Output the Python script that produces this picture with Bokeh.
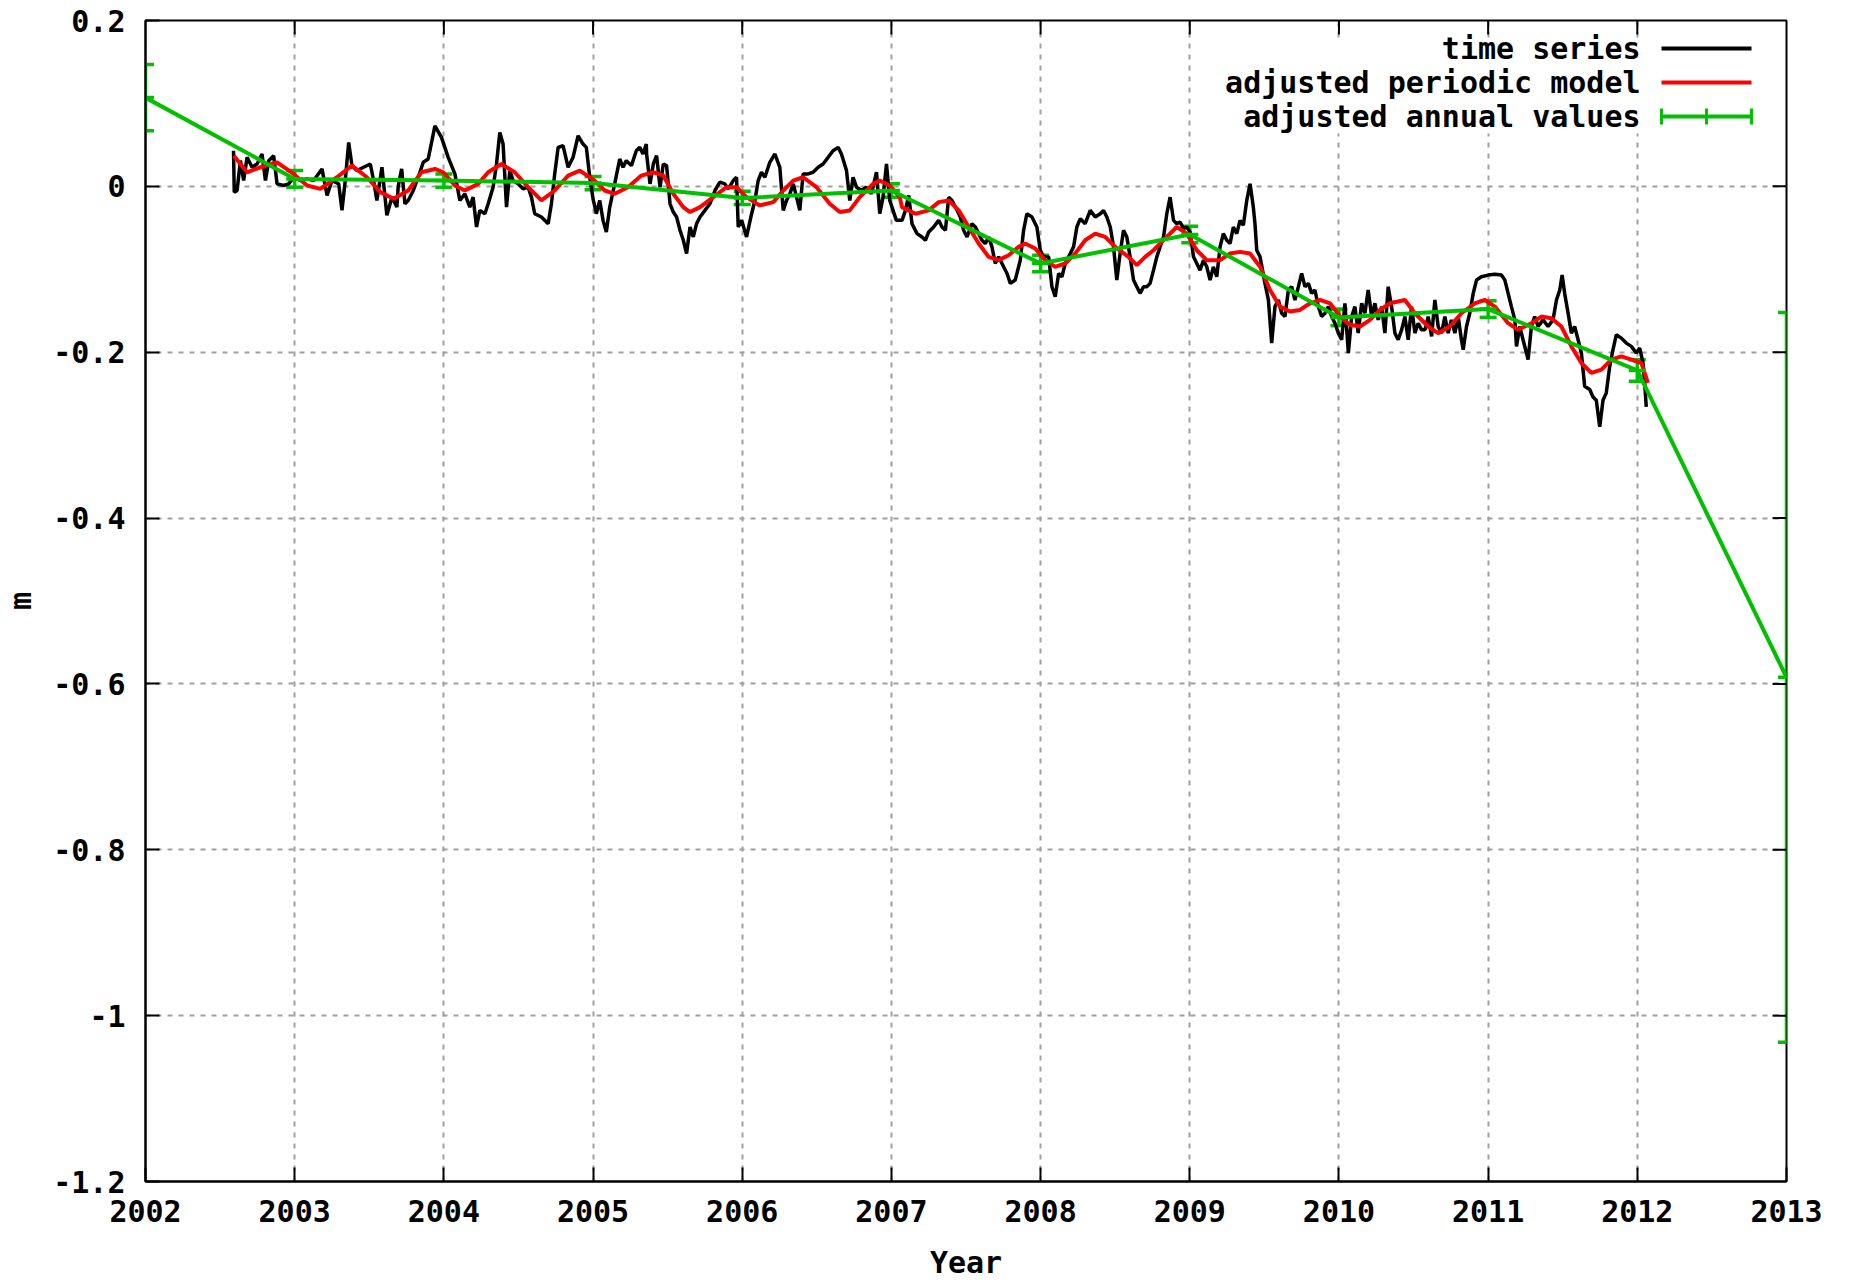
import math
from bokeh.plotting import figure
from bokeh.models import (Range1d, FixedTicker, Whisker, TeeHead,
                          ColumnDataSource, Label, BoxAnnotation)
from bokeh.embed import file_html
from bokeh.resources import INLINE

# ---------------- data ----------------
ts_year = [
    2002.590, 2002.595, 2002.614, 2002.636, 2002.658, 2002.681, 2002.714, 2002.748, 2002.781, 2002.804,
    2002.826, 2002.859, 2002.882, 2002.926, 2002.960, 2002.993, 2003.038, 2003.083, 2003.127, 2003.183,
    2003.217, 2003.250, 2003.295, 2003.317, 2003.339, 2003.362, 2003.384, 2003.417, 2003.462, 2003.507,
    2003.529, 2003.551, 2003.585, 2003.618, 2003.652, 2003.685,
    2003.694, 2003.717, 2003.739, 2003.761, 2003.795, 2003.828, 2003.862, 2003.895, 2003.940, 2003.984,
    2004.029, 2004.074, 2004.107, 2004.141, 2004.174, 2004.196, 2004.219, 2004.241, 2004.275, 2004.297,
    2004.330, 2004.353, 2004.375, 2004.397, 2004.420, 2004.442, 2004.464, 2004.498, 2004.531, 2004.565,
    2004.587, 2004.609, 2004.654, 2004.699, 2004.721, 2004.743, 2004.766, 2004.799, 2004.833, 2004.866,
    2004.900, 2004.933, 2004.955, 2004.978, 2005.000, 2005.022, 2005.045, 2005.067, 2005.089, 2005.112,
    2005.145, 2005.179, 2005.201, 2005.223, 2005.257, 2005.290, 2005.313, 2005.335, 2005.357,
    2005.359, 2005.382, 2005.404, 2005.426, 2005.449, 2005.471, 2005.493, 2005.516, 2005.538, 2005.560,
    2005.583, 2005.605, 2005.627, 2005.650, 2005.672, 2005.694, 2005.717, 2005.750, 2005.783, 2005.817,
    2005.850, 2005.884, 2005.906, 2005.940, 2005.962, 2005.973, 2005.996, 2006.029, 2006.063, 2006.085,
    2006.107, 2006.129, 2006.152, 2006.185, 2006.219, 2006.252, 2006.275, 2006.297, 2006.319, 2006.342,
    2006.364, 2006.386, 2006.408, 2006.442, 2006.475, 2006.509, 2006.542, 2006.576, 2006.609, 2006.643,
    2006.665, 2006.699, 2006.721, 2006.743, 2006.766, 2006.799, 2006.833, 2006.866, 2006.900, 2006.922,
    2006.944, 2006.967, 2006.989, 2007.011, 2007.033,
    2007.071, 2007.094, 2007.116, 2007.138, 2007.172, 2007.205, 2007.228, 2007.250, 2007.283, 2007.317,
    2007.339, 2007.362, 2007.384, 2007.406, 2007.429, 2007.462, 2007.484, 2007.507, 2007.540, 2007.563,
    2007.585, 2007.607, 2007.629, 2007.652, 2007.674, 2007.696, 2007.719, 2007.752, 2007.775, 2007.797,
    2007.830, 2007.864, 2007.886, 2007.908, 2007.942, 2007.975, 2007.998, 2008.020, 2008.054, 2008.076,
    2008.098, 2008.121, 2008.143, 2008.165, 2008.199, 2008.221, 2008.243, 2008.266, 2008.299, 2008.333,
    2008.366, 2008.400, 2008.422, 2008.444, 2008.467, 2008.489, 2008.511, 2008.533, 2008.556, 2008.578,
    2008.600, 2008.623, 2008.645, 2008.667, 2008.690, 2008.712,
    2008.734, 2008.757, 2008.779, 2008.801, 2008.824, 2008.846, 2008.868, 2008.891, 2008.913, 2008.935,
    2008.958, 2008.980, 2009.002, 2009.025, 2009.047, 2009.069, 2009.092, 2009.114, 2009.136, 2009.158,
    2009.181, 2009.203, 2009.225, 2009.248, 2009.270, 2009.292, 2009.315, 2009.337, 2009.359, 2009.382,
    2009.404, 2009.426, 2009.437, 2009.449, 2009.471, 2009.504, 2009.527, 2009.549, 2009.571, 2009.594,
    2009.616, 2009.638, 2009.661, 2009.683, 2009.705, 2009.728, 2009.750, 2009.772, 2009.795, 2009.817,
    2009.839, 2009.862, 2009.884, 2009.906, 2009.929, 2009.951, 2009.973, 2009.996, 2010.018, 2010.040,
    2010.063, 2010.085, 2010.107, 2010.129, 2010.152, 2010.174, 2010.196, 2010.219, 2010.241, 2010.263,
    2010.286, 2010.308, 2010.330, 2010.353, 2010.375, 2010.397,
    2010.420, 2010.442, 2010.464, 2010.487, 2010.509, 2010.531, 2010.554, 2010.576, 2010.598, 2010.621,
    2010.643, 2010.665, 2010.688, 2010.710, 2010.732, 2010.754, 2010.777, 2010.799, 2010.821, 2010.833,
    2010.855, 2010.877, 2010.900, 2010.922, 2010.955, 2011.000, 2011.045, 2011.089, 2011.112, 2011.134,
    2011.156, 2011.179, 2011.190, 2011.212, 2011.234, 2011.268, 2011.290, 2011.312, 2011.335, 2011.368,
    2011.402, 2011.435, 2011.458, 2011.480, 2011.496, 2011.513, 2011.536, 2011.558, 2011.580, 2011.603,
    2011.625, 2011.647, 2011.681, 2011.703, 2011.725, 2011.748, 2011.770, 2011.792, 2011.815, 2011.837,
    2011.859, 2011.893, 2011.926, 2011.960, 2011.993, 2012.016, 2012.038, 2012.049, 2012.060,
]
ts_value = [
    0.043, -0.007, -0.005, 0.031, 0.007, 0.035, 0.023, 0.027, 0.039, 0.007,
    0.031, 0.037, 0.003, 0.001, 0.003, 0.011, 0.007, 0.009, 0.007, 0.021,
    -0.011, 0.007, 0.003, -0.029, 0.007, 0.053, 0.025, 0.019, 0.023, 0.027,
    0.007, -0.017, 0.023, -0.035, -0.013, -0.025,
    0.000, 0.021, -0.021, -0.017, -0.005, 0.011, 0.029, 0.033, 0.073, 0.059,
    0.035, 0.015, -0.017, -0.009, -0.025, -0.013, -0.049, -0.029, -0.033, -0.021,
    -0.001, 0.027, 0.065, 0.051, -0.025, 0.019, 0.007, 0.003, -0.003, -0.001,
    -0.013, -0.033, -0.037, -0.045, -0.021, 0.015, 0.047, 0.049, 0.023, 0.035,
    0.061, 0.051, 0.047, 0.011, -0.015, -0.033, -0.017, -0.041, -0.055, -0.025,
    0.003, 0.033, 0.023, 0.031, 0.025, 0.043, 0.047, 0.039, 0.051,
    0.039, 0.003, 0.027, 0.037, -0.001, 0.027, 0.025, -0.021, -0.031, -0.037,
    -0.053, -0.065, -0.081, -0.049, -0.061, -0.045, -0.037, -0.029, -0.021, -0.005,
    0.005, 0.003, -0.003, 0.007, 0.011, -0.049, -0.041, -0.061, -0.033, -0.017,
    0.007, 0.017, 0.011, 0.029, 0.039, 0.023, -0.029, -0.017, -0.009, 0.003,
    -0.013, -0.029, 0.015, 0.015, 0.017, 0.023, 0.027, 0.035, 0.043, 0.047,
    0.039, 0.019, -0.017, 0.011, -0.001, -0.005, -0.001, -0.009, 0.017, -0.033,
    -0.013, 0.027, -0.017, -0.029, -0.041,
    -0.041, -0.029, -0.011, -0.045, -0.057, -0.061, -0.065, -0.055, -0.049, -0.041,
    -0.049, -0.053, -0.013, -0.017, -0.025, -0.037, -0.053, -0.061, -0.045, -0.049,
    -0.057, -0.065, -0.069, -0.061, -0.073, -0.093, -0.085, -0.097, -0.105, -0.117,
    -0.113, -0.089, -0.053, -0.033, -0.037, -0.049, -0.077, -0.085, -0.085, -0.121,
    -0.133, -0.105, -0.109, -0.093, -0.081, -0.073, -0.049, -0.039, -0.045, -0.029,
    -0.037, -0.033, -0.029, -0.037, -0.049, -0.073, -0.113, -0.081, -0.053, -0.061,
    -0.085, -0.113, -0.121, -0.129, -0.121, -0.121,
    -0.117, -0.101, -0.085, -0.073, -0.061, -0.033, -0.013, -0.041, -0.045, -0.043,
    -0.051, -0.049, -0.055, -0.085, -0.093, -0.101, -0.089, -0.097, -0.113, -0.097,
    -0.109, -0.073, -0.057, -0.065, -0.069, -0.049, -0.057, -0.041, -0.047, -0.017,
    0.003, -0.025, -0.045, -0.077, -0.085, -0.117, -0.137, -0.189, -0.145, -0.137,
    -0.153, -0.157, -0.125, -0.121, -0.137, -0.121, -0.105, -0.121, -0.117, -0.129,
    -0.125, -0.145, -0.157, -0.153, -0.145, -0.157, -0.165, -0.177, -0.185, -0.141,
    -0.201, -0.157, -0.145, -0.177, -0.141, -0.153, -0.125, -0.157, -0.141, -0.161,
    -0.145, -0.177, -0.121, -0.145, -0.177, -0.185,
    -0.173, -0.157, -0.185, -0.145, -0.177, -0.165, -0.173, -0.173, -0.157, -0.181,
    -0.137, -0.169, -0.177, -0.157, -0.177, -0.161, -0.177, -0.157, -0.185, -0.197,
    -0.169, -0.153, -0.129, -0.113, -0.109, -0.107, -0.106, -0.107, -0.113, -0.129,
    -0.145, -0.161, -0.193, -0.169, -0.185, -0.209, -0.169, -0.157, -0.169, -0.161,
    -0.169, -0.161, -0.137, -0.125, -0.107, -0.129, -0.153, -0.177, -0.169, -0.185,
    -0.201, -0.241, -0.245, -0.254, -0.258, -0.290, -0.258, -0.249, -0.217, -0.197,
    -0.179, -0.183, -0.189, -0.193, -0.201, -0.195, -0.213, -0.237, -0.266,
]

model_year = [
    2002.592, 2002.681, 2002.770, 2002.882, 2002.993, 2003.083, 2003.172, 2003.283, 2003.384, 2003.484,
    2003.574, 2003.663, 2003.761, 2003.850, 2003.940, 2003.996, 2004.074, 2004.141, 2004.230, 2004.297,
    2004.386, 2004.475, 2004.565, 2004.654, 2004.743, 2004.833, 2004.911, 2005.011, 2005.078, 2005.145,
    2005.234, 2005.324, 2005.404, 2005.471, 2005.538, 2005.605, 2005.650, 2005.717, 2005.806, 2005.895,
    2005.962, 2006.029, 2006.118, 2006.208, 2006.275, 2006.342, 2006.408, 2006.498, 2006.587, 2006.654,
    2006.721, 2006.788, 2006.877, 2006.922, 2006.989, 2007.056, 2007.071, 2007.161, 2007.250, 2007.317,
    2007.384, 2007.451, 2007.518, 2007.585, 2007.652, 2007.719, 2007.786, 2007.853, 2007.897, 2007.964,
    2008.031, 2008.098, 2008.165, 2008.232, 2008.299, 2008.366, 2008.433, 2008.500, 2008.589, 2008.645,
    2008.701, 2008.757, 2008.846, 2008.913, 2008.980, 2009.047, 2009.114, 2009.203, 2009.270, 2009.337,
    2009.404, 2009.471, 2009.538, 2009.605, 2009.672, 2009.739, 2009.806, 2009.873, 2009.940, 2010.007,
    2010.074, 2010.141, 2010.208, 2010.275, 2010.342, 2010.442, 2010.509, 2010.598, 2010.665, 2010.743,
    2010.821, 2010.911, 2010.978, 2011.045, 2011.134, 2011.201, 2011.290, 2011.357, 2011.424, 2011.491,
    2011.558, 2011.625, 2011.692, 2011.759, 2011.826, 2011.893, 2011.960, 2012.027, 2012.071,
]
model_value = [
    0.037, 0.017, 0.023, 0.029, 0.015, 0.001, -0.003, 0.011, 0.025, 0.011,
    -0.007, -0.015, -0.005, 0.017, 0.021, 0.017, 0.001, -0.005, 0.003, 0.017,
    0.027, 0.017, -0.001, -0.017, -0.005, 0.013, 0.019, 0.007, -0.005, -0.009,
    -0.001, 0.013, 0.017, 0.013, -0.009, -0.025, -0.031, -0.025, -0.013, -0.001,
    -0.001, -0.013, -0.023, -0.019, -0.005, 0.007, 0.011, -0.001, -0.021, -0.031,
    -0.029, -0.013, 0.003, 0.007, 0.001, -0.013, -0.025, -0.033, -0.029, -0.019,
    -0.017, -0.029, -0.049, -0.069, -0.085, -0.089, -0.083, -0.073, -0.069, -0.075,
    -0.089, -0.097, -0.093, -0.081, -0.065, -0.057, -0.061, -0.073, -0.085, -0.095,
    -0.085, -0.077, -0.061, -0.049, -0.057, -0.077, -0.089, -0.089, -0.081, -0.079,
    -0.081, -0.097, -0.125, -0.145, -0.151, -0.149, -0.141, -0.137, -0.141, -0.157,
    -0.167, -0.169, -0.161, -0.149, -0.141, -0.137, -0.153, -0.169, -0.177, -0.169,
    -0.153, -0.141, -0.137, -0.145, -0.165, -0.173, -0.165, -0.157, -0.159, -0.169,
    -0.193, -0.213, -0.225, -0.221, -0.209, -0.205, -0.209, -0.213, -0.237,
]

annual_year = [2002, 2003, 2004, 2005, 2006, 2007, 2008, 2009, 2010, 2011, 2012, 2013]
annual_value = [0.107, 0.009, 0.007, 0.004, -0.014, -0.005, -0.093, -0.058, -0.158, -0.148, -0.222, -0.592]
annual_err = [0.040, 0.010, 0.008, 0.008, 0.008, 0.008, 0.010, 0.010, 0.010, 0.010, 0.013, 0.440]

x_ticks = [2002, 2003, 2004, 2005, 2006, 2007, 2008, 2009, 2010, 2011, 2012, 2013]
x_labels = ["2002", "2003", "2004", "2005", "2006", "2007", "2008", "2009", "2010", "2011", "2012", "2013"]
y_ticks = [-1.2, -1.0, -0.8, -0.6, -0.4, -0.2, 0.0, 0.2]
y_labels = ["-1.2", "-1", "-0.8", "-0.6", "-0.4", "-0.2", "0", "0.2"]

legend_labels = ["time series", "adjusted periodic model", "adjusted annual values"]

# ---------------- styling ----------------
FONT = "DejaVu Sans Mono"
FS = "30px"
GREEN = "#00c000"
RED = "#ff0000"
BLACK = "#000000"
GRID = "#a0a0a0"

p = figure(width=1850, height=1282,
           x_range=Range1d(x_ticks[0], x_ticks[-1]), y_range=Range1d(y_ticks[0], y_ticks[-1]),
           output_backend="svg", toolbar_location=None,
           min_border_left=145, min_border_right=64,
           min_border_top=20, min_border_bottom=99,
           background_fill_color="white", border_fill_color="white")

p.outline_line_color = BLACK
p.outline_line_width = 2
p.outline_line_alpha = 1

xax = p.xaxis[0]
yax = p.yaxis[0]
xax.ticker = FixedTicker(ticks=x_ticks)
xax.major_label_overrides = dict(zip(x_ticks, x_labels))
yax.ticker = FixedTicker(ticks=y_ticks)
yax.major_label_overrides = dict(zip(y_ticks, y_labels))

for ax in (xax, yax):
    ax.major_tick_in = 14
    ax.major_tick_out = 0
    ax.major_tick_line_width = 2
    ax.major_tick_line_color = BLACK
    ax.minor_tick_line_color = None
    ax.axis_line_color = BLACK
    ax.axis_line_width = 2
    ax.major_label_text_font = FONT
    ax.major_label_text_font_style = "bold"
    ax.major_label_text_font_size = FS
    ax.major_label_text_color = BLACK
    ax.axis_label_text_font = FONT
    ax.axis_label_text_font_style = "bold"
    ax.axis_label_text_font_size = FS
    ax.axis_label_text_color = BLACK

xax.major_label_standoff = 18
xax.axis_label = "Year"
xax.axis_label_standoff = 20
yax.major_label_standoff = 20
yax.axis_label = "m"
yax.axis_label_standoff = 12

p.grid.grid_line_color = GRID
p.grid.grid_line_dash = "5 6"
p.grid.grid_line_width = 2

# mirrored tick marks on top and right edges (half of each dash is clipped by the frame)
p.scatter(x=x_ticks[1:-1], y=[p.y_range.end] * (len(x_ticks) - 2), marker="dash",
          angle=math.pi / 2, size=28, line_color=BLACK, line_width=2)
p.scatter(x=[p.x_range.end] * (len(y_ticks) - 2), y=y_ticks[1:-1], marker="dash",
          size=28, line_color=BLACK, line_width=2)

# ---------------- series ----------------
p.line(ts_year, ts_value, line_color=BLACK, line_width=3.5)
p.line(model_year, model_value, line_color=RED, line_width=4)

upper = [v + e for v, e in zip(annual_value, annual_err)]
lower = [v - e for v, e in zip(annual_value, annual_err)]
src = ColumnDataSource(dict(x=annual_year, y=annual_value, upper=upper, lower=lower))
p.line("x", "y", source=src, line_color=GREEN, line_width=4)
wh = Whisker(source=src, base="x", upper="upper", lower="lower", dimension="height",
             line_color=GREEN, line_width=3.5,
             upper_head=TeeHead(size=17, line_color=GREEN, line_width=3.5),
             lower_head=TeeHead(size=17, line_color=GREEN, line_width=3.5))
p.add_layout(wh)
p.scatter("x", "y", source=src, marker="dash", size=17, line_color=GREEN, line_width=3.5)

# ---------------- legend (gnuplot style: text right, sample left) ----------------
def sbox(l, r, b, t, color):
    return BoxAnnotation(left=l, right=r, bottom=b, top=t,
                         left_units="screen", right_units="screen",
                         top_units="screen", bottom_units="screen",
                         fill_color=color, fill_alpha=1, line_alpha=0)

p.add_layout(sbox(1070, 1638, 1048, 1142, "white"))
rows_y = [1133, 1099, 1065]
colors = [BLACK, RED, GREEN]
for lab, ry, col in zip(legend_labels, rows_y, colors):
    p.add_layout(Label(x=1495, y=ry, x_units="screen", y_units="screen", text=lab,
                       text_font=FONT, text_font_style="bold", text_font_size=FS,
                       text_align="right", text_baseline="middle", text_color=BLACK))
    p.add_layout(sbox(1516, 1606, ry - 2, ry + 2, col))
for tx in (1516, 1561, 1606):
    p.add_layout(sbox(tx - 1.5, tx + 1.5, rows_y[2] - 8, rows_y[2] + 8, GREEN))

open("out.html", "w").write(file_html(p, INLINE))
